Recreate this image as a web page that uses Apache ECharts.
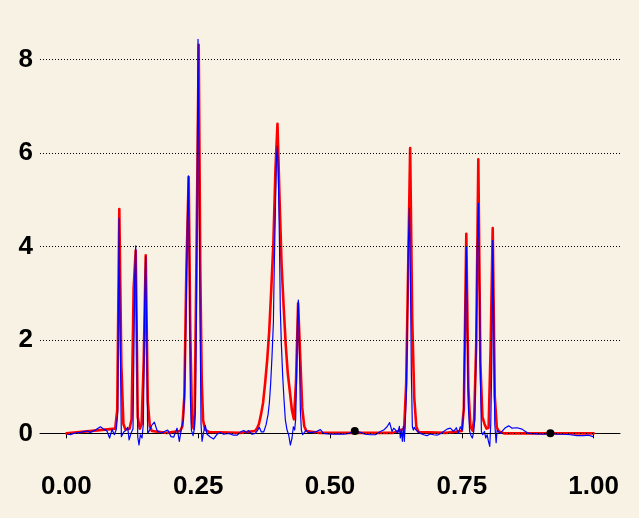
<!DOCTYPE html>
<html>
<head>
<meta charset="utf-8">
<script src="https://cdn.jsdelivr.net/npm/echarts@6/dist/echarts.min.js"></script>
<style>
html,body{margin:0;padding:0;background:#f8f2e4;}
#chart{width:639px;height:518px;}
</style>
</head>
<body>
<div id="chart"></div>
<script>
// Red (true function) samples
const redX = [0, 0.0926, 0.0965, 0.1004, 0.1043, 0.1082, 0.1121, 0.1198, 0.1237, 0.1276, 0.1315, 0.1354, 0.1393, 0.1427, 0.1466, 0.1505, 0.1544, 0.1583, 0.1622, 0.19, 0.216, 0.22, 0.2238, 0.2276, 0.232, 0.235, 0.2384, 0.2415, 0.2434, 0.2465, 0.251, 0.254, 0.2567, 0.2593, 0.263, 0.27, 0.33, 0.3574, 0.3613, 0.3652, 0.3691, 0.373, 0.377, 0.3809, 0.3848, 0.3887, 0.3926, 0.3965, 0.4004, 0.4043, 0.4082, 0.4121, 0.416, 0.4199, 0.4238, 0.4277, 0.4316, 0.4355, 0.4395, 0.4434, 0.4473, 0.4512, 0.4551, 0.48, 0.62, 0.6406, 0.6445, 0.6484, 0.652, 0.6559, 0.6598, 0.6637, 0.6676, 0.72, 0.75, 0.7539, 0.7585, 0.7624, 0.7663, 0.7702, 0.7734, 0.7773, 0.7813, 0.7852, 0.7891, 0.793, 0.7969, 0.8008, 0.8047, 0.8086, 0.8125, 0.8164, 0.8203, 0.83, 1.0];
const redY = [0, 0.1, 0.5, 4.8, 1.46, 0.2, 0.08, 0.1, 0.3, 3.1, 3.91, 0.35, 0.1, 0.2, 1.5, 3.81, 0.68, 0.15, 0.05, 0.01, 0.05, 0.15, 0.79, 3.5, 5.48, 2.18, 0.22, 0.1, 0.43, 3.5, 8.31, 3.5, 1.14, 0.28, 0.08, 0.03, 0.01, 0.05, 0.1, 0.2, 0.4, 0.65, 1.08, 1.57, 2.2, 3.1, 4.07, 5.63, 6.62, 5.03, 3.6, 2.71, 1.9, 1.29, 0.9, 0.5, 0.3, 1.1, 2.78, 1.68, 0.55, 0.15, 0.05, 0.01, 0.01, 0.1, 1.07, 3.64, 6.1, 2.46, 0.76, 0.15, 0.03, 0.01, 0.05, 0.54, 4.27, 0.97, 0.15, 0.06, 0.3, 1.9, 5.86, 1.5, 0.35, 0.2, 0.1, 0.12, 1.86, 4.39, 0.79, 0.12, 0.04, 0.0, 0.0];

// Blue (estimate) samples
const blueX = [0.0025, 0.0076, 0.014, 0.0265, 0.039, 0.0455, 0.055, 0.0645, 0.0708, 0.077, 0.082, 0.0866, 0.091, 0.0948, 0.0973, 0.0999, 0.1018, 0.1043, 0.1087, 0.1125, 0.1163, 0.119, 0.1226, 0.1264, 0.1296, 0.1315, 0.1334, 0.1353, 0.1378, 0.1403, 0.1435, 0.146, 0.1485, 0.1504, 0.1523, 0.1542, 0.158, 0.1618, 0.1669, 0.172, 0.1796, 0.1858, 0.1922, 0.1985, 0.2036, 0.2099, 0.2143, 0.2181, 0.2219, 0.2244, 0.227, 0.2295, 0.2314, 0.2333, 0.2352, 0.2371, 0.2403, 0.2428, 0.2447, 0.2466, 0.2484, 0.2497, 0.2516, 0.2535, 0.2554, 0.2573, 0.2604, 0.2636, 0.2668, 0.273, 0.2793, 0.2857, 0.292, 0.2983, 0.3078, 0.3173, 0.3237, 0.33, 0.3363, 0.3414, 0.3457, 0.3521, 0.3584, 0.3628, 0.366, 0.3698, 0.3742, 0.3787, 0.3825, 0.385, 0.3875, 0.39, 0.3926, 0.3945, 0.3964, 0.3983, 0.4002, 0.4021, 0.404, 0.4058, 0.4077, 0.4103, 0.4128, 0.4153, 0.4185, 0.4216, 0.4248, 0.428, 0.4305, 0.433, 0.4349, 0.4368, 0.4387, 0.44, 0.4419, 0.4438, 0.4457, 0.4482, 0.4514, 0.4546, 0.4584, 0.4615, 0.466, 0.4722, 0.4817, 0.488, 0.4975, 0.5071, 0.5166, 0.526, 0.5355, 0.5468, 0.5576, 0.5671, 0.5765, 0.586, 0.5955, 0.6018, 0.6082, 0.6131, 0.6176, 0.6208, 0.6246, 0.6284, 0.6315, 0.6334, 0.6353, 0.6372, 0.6391, 0.641, 0.6429, 0.6448, 0.6467, 0.6486, 0.6505, 0.6524, 0.6543, 0.6562, 0.6581, 0.66, 0.6625, 0.6663, 0.6714, 0.6777, 0.684, 0.6903, 0.6966, 0.7029, 0.7093, 0.7156, 0.7219, 0.7282, 0.7345, 0.7396, 0.7434, 0.7472, 0.751, 0.7535, 0.7561, 0.7586, 0.7605, 0.7624, 0.7649, 0.7675, 0.77, 0.7726, 0.7745, 0.7771, 0.779, 0.7815, 0.7834, 0.7853, 0.7872, 0.7897, 0.7929, 0.7954, 0.798, 0.8005, 0.803, 0.8049, 0.8068, 0.8087, 0.8106, 0.8125, 0.8151, 0.817, 0.8199, 0.823, 0.8282, 0.8326, 0.8389, 0.8453, 0.8548, 0.8642, 0.8705, 0.8768, 0.88, 0.8926, 0.9052, 0.9179, 0.9306, 0.9432, 0.9558, 0.9685, 0.981, 0.9905, 0.9989];
const blueY = [-0.02, -0.03, 0.0, 0.02, 0.05, 0.02, 0.07, 0.14, 0.09, 0.05, -0.1, 0.08, -0.03, 0.09, 0.43, 4.6, 2.4, -0.07, 0.03, 0.06, 0.13, -0.14, 0.0, 0.1, 3.3, 4.01, 2.28, -0.07, -0.25, -0.03, -0.1, 0.2, 2.8, 3.78, 2.2, 0.0, 0.07, 0.17, 0.24, 0.06, 0.0, 0.04, 0.07, -0.07, -0.08, 0.11, -0.17, 0.1, 0.29, 0.93, 2.57, 4.5, 5.51, 3.64, 0.79, 0.07, -0.05, 0.1, 0.57, 2.57, 5.78, 8.43, 5.85, 2.57, 0.2, -0.17, 0.03, 0.17, -0.02, -0.08, -0.12, -0.02, 0.02, -0.02, 0.0, -0.04, -0.04, 0.03, 0.06, 0.02, 0.06, -0.02, 0.0, 0.07, 0.13, 0.03, 0.03, 0.18, 0.4, 0.65, 1.07, 1.65, 2.36, 3.7, 4.78, 5.85, 6.15, 5.5, 4.2, 2.64, 1.93, 1.22, 0.72, 0.29, 0.07, -0.03, -0.25, -0.1, 0.14, 0.07, 0.3, 1.38, 2.64, 2.85, 1.78, 0.5, 0.07, -0.03, -0.03, 0.07, 0.02, 0.05, 0.02, 0.03, 0.08, 0.0, -0.01, -0.02, -0.01, -0.02, 0.0, 0.05, 0.02, -0.02, -0.03, -0.03, 0.04, 0.07, 0.14, 0.23, 0.04, 0.11, 0.07, 0.0, 0.15, -0.1, 0.07, -0.17, 0.15, -0.17, 0.28, 0.85, 2.28, 4.0, 4.82, 3.5, 1.28, 0.14, 0.07, 0.13, 0.08, 0.04, 0.0, -0.03, -0.05, -0.01, -0.03, -0.04, -0.01, 0.04, 0.09, 0.11, 0.04, 0.12, 0.0, 0.14, 0.07, 0.5, 2.43, 4.0, 2.2, 0.57, 0.04, -0.05, -0.1, 0.04, 0.28, 1.7, 3.78, 4.92, 3.28, 1.14, 0.04, -0.03, 0.04, -0.1, -0.03, -0.17, -0.28, 0.2, 1.5, 4.13, 2.28, 0.2, -0.2, 0.07, 0.04, 0.0, 0.07, 0.12, 0.16, 0.11, 0.12, 0.09, 0.04, 0.0, 0.0, -0.01, -0.02, 0.0, -0.02, -0.02, -0.03, -0.05, -0.05, -0.04, -0.07];

// Black points
const dotX = [0.547, 0.918];
const dotY = [0.05, 0.0];

// Tick labels
const xTicks = [0, 0.25, 0.5, 0.75, 1];
const yTicks = [0, 2, 4, 6, 8];

const zip = (xs, ys) => xs.map((x, i) => [x, ys[i]]);

const chart = echarts.init(document.getElementById('chart'), null, {renderer: 'canvas'});
const labelFont = {fontFamily: '"Liberation Sans", Arial, sans-serif', fontWeight: 'bold', fontSize: 26, color: '#000'};

chart.setOption({
  animation: false,
  backgroundColor: '#f8f2e4',
  grid: {left: 40, right: 19, top: 18, bottom: 51, containLabel: false},
  xAxis: {
    type: 'value', min: -0.05, max: 1.05,
    axisLine: {show: true, lineStyle: {color: '#000', width: 1}},
    axisTick: {show: true, length: 5, lineStyle: {color: '#000', width: 1}, customValues: xTicks},
    axisLabel: Object.assign({margin: 7, customValues: xTicks, formatter: v => v.toFixed(2)}, labelFont),
    splitLine: {show: false}
  },
  yAxis: {
    type: 'value', min: -0.72, max: 8.884,
    axisLine: {show: false},
    axisTick: {show: false, customValues: yTicks},
    axisLabel: Object.assign({margin: 7, customValues: yTicks, formatter: v => String(v)}, labelFont),
    splitLine: {show: false}
  },
  series: [
    {
      type: 'line', data: zip(redX, redY), symbol: 'none', smooth: false,
      lineStyle: {color: '#ff0000', width: 2.6, join: 'round', cap: 'round'}, z: 3,
      markLine: {
        silent: true, symbol: ['none', 'none'], label: {show: false},
        lineStyle: {color: '#000', type: [1, 2], width: 1},
        data: yTicks.map(v => ({yAxis: v}))
      }
    },
    {
      type: 'line', data: zip(blueX, blueY), symbol: 'none', smooth: false,
      lineStyle: {color: '#0000ff', width: 1.2, join: 'round', cap: 'round'}, z: 4
    },
    {
      type: 'scatter', data: zip(dotX, dotY), symbol: 'circle', symbolSize: 8,
      itemStyle: {color: '#000', opacity: 1}, z: 5
    }
  ]
});
</script>
</body>
</html>
